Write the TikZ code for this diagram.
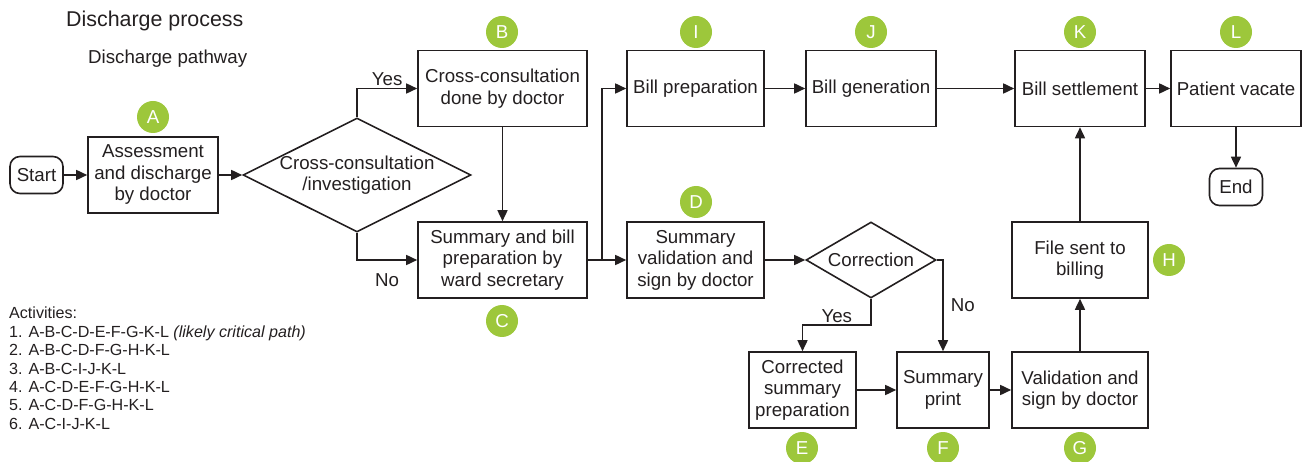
\documentclass[tikz,border=0pt]{standalone}
\usepackage{fontspec}
\setmainfont{Liberation Sans}
\usetikzlibrary{shapes.geometric,arrows.meta}

\definecolor{inkgray}{RGB}{35,31,32}
\definecolor{taggreen}{RGB}{157,199,59}

\tikzset{
  process/.style={draw=inkgray, line width=1.6pt, align=center, minimum height=76pt, inner sep=2pt},
  terminal/.style={draw=inkgray, line width=1.6pt, rounded corners=10pt, minimum width=53pt, minimum height=37pt, inner sep=2pt},
  decision/.style={diamond, draw=inkgray, line width=1.6pt, inner sep=0pt},
  tag/.style={circle, fill=taggreen, text=white, minimum size=32pt, inner sep=0pt},
  answer/.style={inner sep=2pt},
  flow/.style={draw=inkgray, line width=1.6pt, -{Triangle[length=11pt,width=10pt]}}
}

\begin{document}
\begin{tikzpicture}[x=1pt, y=-1pt, font=\fontsize{18.7pt}{21.5pt}\selectfont,
    every node/.append style={text=inkgray}]

    \useasboundingbox (0,0) rectangle (1304,462);

    % Titles
    \node[anchor=west, inner sep=0pt, font=\fontsize{21.4pt}{24pt}\selectfont] (title) at (66,21) {Discharge process};
    \node[anchor=west, inner sep=0pt] (subtitle) at (88,59) {Discharge pathway};

    % Start and end
    \node[terminal] (start) at (36.5,175) {Start};
    \node[terminal] (finish) at (1236,187) {End};

    % Activity boxes, top row
    \node[process, minimum width=169pt] (xdone) at (502.5,88.5) {Cross-consultation\\done by doctor};
    \node[process, minimum width=137pt] (billprep) at (695.5,88.5) {Bill preparation};
    \node[process, minimum width=130pt] (billgen) at (871,88.5) {Bill generation};
    \node[process, minimum width=130pt] (billset) at (1080,88.5) {Bill settlement};
    \node[process, minimum width=130pt] (vacate) at (1236,88.5) {Patient vacate};

    % Activity boxes, middle row
    \node[process, minimum width=130pt] (assess) at (153,175) {Assessment\\and discharge\\by doctor};
    \node[process, minimum width=169pt] (summbill) at (502.5,260) {Summary and bill\\preparation by\\ward secretary};
    \node[process, minimum width=137pt] (validate) at (695.5,260) {Summary\\validation and\\sign by doctor};
    \node[process, minimum width=136pt] (tobilling) at (1080,260) {File sent to\\billing};

    % Activity boxes, bottom row
    \node[process, minimum width=107pt] (corrected) at (802.5,390) {Corrected\\summary\\preparation};
    \node[process, minimum width=92pt] (sprint) at (943,390) {Summary\\print};
    \node[process, minimum width=136pt] (docsign) at (1080,390) {Validation and\\sign by doctor};

    % Decisions
    \node[decision, minimum width=228pt, minimum height=114pt,
          label={[align=center]center:Cross-consultation\\/investigation}] (xcons) at (357,175) {};
    \node[decision, minimum width=130pt, minimum height=76pt,
          label=center:Correction] (correct) at (871,260) {};

    % Letter tags
    \node[tag] (tagA) at (153,117) {A};
    \node[tag] (tagB) at (502,32) {B};
    \node[tag] (tagC) at (502,321) {C};
    \node[tag] (tagD) at (696,202) {D};
    \node[tag] (tagE) at (802,448) {E};
    \node[tag] (tagF) at (943,448) {F};
    \node[tag] (tagG) at (1080,448) {G};
    \node[tag] (tagH) at (1169,260) {H};
    \node[tag] (tagI) at (696,32) {I};
    \node[tag] (tagJ) at (871,32) {J};
    \node[tag] (tagK) at (1080,32) {K};
    \node[tag] (tagL) at (1236,32) {L};

    % Turning points
    \coordinate (split) at (602,260);
    \coordinate (yesturn) at (871,325);
    \coordinate (noturn) at (943,260);

    % Connectors
    \draw[flow] (start) -- (assess);
    \draw[flow] (assess) -- (xcons);
    \draw[flow] (xcons.north) |- (xdone) node[answer, pos=0.75, above=0pt] {Yes};
    \draw[flow] (xcons.south) |- (summbill) node[answer, pos=0.75, below=11pt] {No};
    \draw[flow] (xdone) -- (summbill);
    \draw[flow] (summbill) -- (validate);
    \draw[flow] (split) |- (billprep);
    \draw[flow] (billprep) -- (billgen);
    \draw[flow] (billgen) -- (billset);
    \draw[flow] (billset) -- (vacate);
    \draw[flow] (vacate) -- (finish);
    \draw[flow] (validate) -- (correct);
    \draw[flow] (correct.south) -- (yesturn) -| (corrected) node[answer, pos=0.25, above=0pt] {Yes};
    \draw[flow] (correct.east) -- (noturn) -- (sprint) node[answer, midway, right=5pt] {No};
    \draw[flow] (corrected) -- (sprint);
    \draw[flow] (sprint) -- (docsign);
    \draw[flow] (docsign) -- (tobilling);
    \draw[flow] (tobilling) -- (billset);

    % Activities list
    \node[anchor=north west, align=left, inner sep=0pt, font=\fontsize{16.1pt}{18.4pt}\selectfont] (paths) at (9,307)
      {Activities:\\
       1. A-B-C-D-E-F-G-K-L \textit{(likely critical path)}\\
       2. A-B-C-D-F-G-H-K-L\\
       3. A-B-C-I-J-K-L\\
       4. A-C-D-E-F-G-H-K-L\\
       5. A-C-D-F-G-H-K-L\\
       6. A-C-I-J-K-L};

\end{tikzpicture}
\end{document}
